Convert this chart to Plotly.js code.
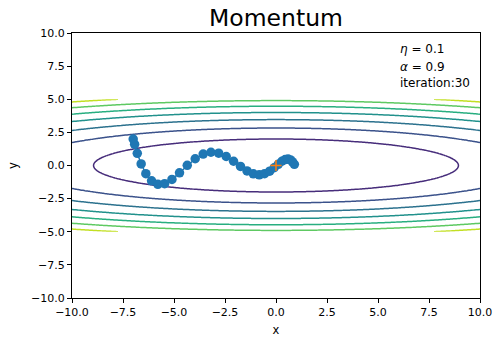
<!DOCTYPE html>
<html>
<head>
<meta charset="utf-8">
<script src="https://cdn.plot.ly/plotly-3.0.1.min.js"></script>
<style>html,body{margin:0;padding:0;background:#fff}#chart{width:500px;height:344px}</style>
</head>
<body>
<div id="chart"></div>
<script>
// Trajectory of the Momentum optimizer
const pathX = [-7.00,-6.93,-6.80,-6.61,-6.38,-6.10,-5.79,-5.46,-5.10,-4.73,-4.35,-3.96,-3.57,-3.19,-2.81,-2.44,-2.08,-1.74,-1.42,-1.11,-0.82,-0.56,-0.31,-0.09,0.11,0.29,0.45,0.59,0.71,0.81,0.90];
const pathY = [2.00,1.60,0.92,0.12,-0.62,-1.16,-1.42,-1.37,-1.05,-0.55,0.01,0.51,0.86,1.00,0.93,0.68,0.32,-0.07,-0.41,-0.63,-0.70,-0.62,-0.43,-0.17,0.09,0.32,0.45,0.49,0.42,0.27,0.09];
// Minimum marker
const minX = [0];
const minY = [0];
// Contour surface f(x,y) = x^2/20 + y^2 on x in [-10,10], y in [-5,5]
const coefX = [1/20];
const coefY = [1];
const gridXRange = [-10, 10];
const gridYRange = [-5, 5];
const levels = [4, 8, 12, 16, 20, 24, 28];
const levelColors = ['#472d7b','#3b528b','#2c728e','#21918c','#28ae80','#5ec962','#c2df23'];
const annoLines = ['<i>\u03b7</i> = 0.1', '<i>\u03b1</i> = 0.9', 'iteration:30'];
const annoY = [8.8, 7.4, 6.2];
const ticks = [-10,-7.5,-5,-2.5,0,2.5,5,7.5,10];
const tickText = ticks.map(v => (v < 0 ? '\u2212' : '') + Math.abs(v).toFixed(1));

const gx = [], gy = [];
for (let i = 0; i <= 200; i++) gx.push(gridXRange[0] + i * 0.1);
for (let j = 0; j <= 100; j++) gy.push(gridYRange[0] + j * 0.1);
const gz = gy.map(y => gx.map(x => coefX[0] * x * x + coefY[0] * y * y));

const lo = levels[0], hi = levels[levels.length - 1];
const cs = levels.map((l, i) => [(l - lo) / (hi - lo), levelColors[i]]);

const traces = [
  {
    type: 'contour', x: gx, y: gy, z: gz,
    zmin: lo, zmax: hi, zauto: false,
    colorscale: cs, showscale: false,
    contours: {coloring: 'lines', start: lo, end: hi, size: levels[1] - levels[0], showlabels: false},
    line: {width: 1.5, smoothing: 1},
    hoverinfo: 'skip'
  },
  {
    type: 'scatter', mode: 'lines+markers', x: pathX, y: pathY,
    line: {color: '#1f77b4', width: 1.5},
    marker: {color: '#1f77b4', size: 9.5, line: {width: 0}},
    cliponaxis: false
  },
  {
    type: 'scatter', mode: 'markers', x: minX, y: minY,
    marker: {symbol: 'cross-thin', color: '#ff7f0e', size: 8, line: {color: '#ff7f0e', width: 1.5}}
  }
];

const axisCommon = {
  range: [-10, 10], tickvals: ticks, ticktext: tickText,
  showgrid: false, zeroline: false, showline: true, mirror: true,
  linecolor: '#000', linewidth: 1, ticks: 'outside', ticklen: 4, tickwidth: 1, tickcolor: '#000',
  tickfont: {family: 'DejaVu Sans', size: 11, color: '#000'}
};

const layout = {
  width: 500, height: 344,
  margin: {l: 72, r: 20, t: 33, b: 46},
  paper_bgcolor: '#fff', plot_bgcolor: '#fff',
  showlegend: false,
  title: {text: 'Momentum', font: {family: 'DejaVu Sans', size: 23.5, color: '#000'}, x: 0.552, xanchor: 'center', y: 0.948, yanchor: 'middle'},
  xaxis: Object.assign({}, axisCommon, {title: {text: 'x', font: {family: 'DejaVu Sans', size: 11.5, color: '#000'}, standoff: 7}}),
  yaxis: Object.assign({}, axisCommon, {title: {text: 'y', font: {family: 'DejaVu Sans', size: 11.5, color: '#000'}, standoff: 11}}),
  annotations: annoLines.map((t, i) => ({
    x: 6, y: annoY[i], xref: 'x', yref: 'y', text: t, showarrow: false,
    xanchor: 'left', yanchor: 'middle',
    font: {family: 'DejaVu Sans', size: 12, color: '#000'}
  }))
};

Plotly.newPlot('chart', traces, layout, {displayModeBar: false, staticPlot: true});
</script>
</body>
</html>
